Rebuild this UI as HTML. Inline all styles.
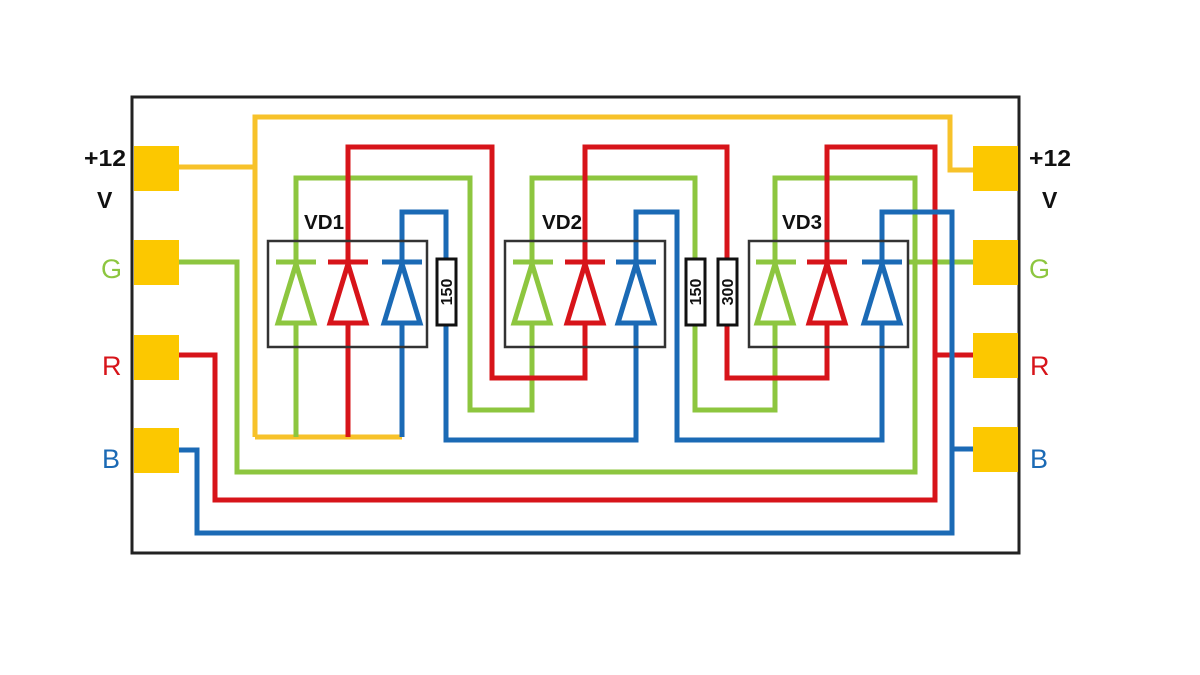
<!DOCTYPE html>
<html><head><meta charset="utf-8"><style>
html,body{margin:0;padding:0;background:#fff;width:1200px;height:675px;overflow:hidden}
svg{display:block}
text{font-family:"Liberation Sans",sans-serif;font-weight:bold}
</style></head><body>
<svg width="1200" height="675" viewBox="0 0 1200 675">
<g fill="none" stroke-width="5" stroke-linejoin="miter">
<polyline stroke="#f7c22a" points="178,167 255,167"/>
<polyline stroke="#f7c22a" points="255,437 255,117 950,117 950,170 973,170"/>
<polyline stroke="#f7c22a" points="255,437 402,437"/>
<polyline stroke="#8dc63f" points="296,437 296,178 470,178 470,410 532,410 532,178 695,178 695,410 775,410 775,178 915,178 915,472 237,472 237,262 178,262"/>
<polyline stroke="#8dc63f" points="908,262 973,262"/>
<polyline stroke="#d7141a" points="348,437 348,147 492,147 492,378 585,378 585,147 727,147 727,378 827,378 827,147 935,147 935,500 215,500 215,355 178,355"/>
<polyline stroke="#d7141a" points="935,355 973,355"/>
<polyline stroke="#1b6ab5" points="402,437 402,212 446,212 446,440 636,440 636,212 677,212 677,440 882,440 882,212 952,212 952,533 197,533 197,450 178,450"/>
<polyline stroke="#1b6ab5" points="952,449 973,449"/>
</g>
<rect x="132" y="97" width="887" height="456" fill="none" stroke="#222" stroke-width="3"/>
<g fill="#fcc800">
<rect x="134" y="146" width="45" height="45"/><rect x="134" y="240" width="45" height="45"/>
<rect x="134" y="335" width="45" height="45"/><rect x="134" y="428" width="45" height="45"/>
<rect x="973" y="146" width="45" height="45"/><rect x="973" y="240" width="45" height="45"/>
<rect x="973" y="333" width="45" height="45"/><rect x="973" y="427" width="45" height="45"/>
</g>
<g fill="none" stroke="#333" stroke-width="2.5">
<rect x="268" y="241" width="159" height="106"/>
<rect x="505" y="241" width="160" height="106"/>
<rect x="749" y="241" width="159" height="106"/>
</g>
<g fill="#fff" stroke-width="5" stroke-linejoin="miter">
<g stroke="#8dc63f"><path d="M276,262H316 M296,264L278,323H314Z"/><path d="M513,262H553 M532,264L514,323H550Z"/><path d="M756,262H796 M775,264L757,323H793Z"/></g>
<g stroke="#d7141a"><path d="M328,262H368 M348,264L330,323H366Z"/><path d="M565,262H605 M585,264L567,323H603Z"/><path d="M807,262H847 M827,264L809,323H845Z"/></g>
<g stroke="#1b6ab5"><path d="M382,262H422 M402,264L384,323H420Z"/><path d="M616,262H656 M636,264L618,323H654Z"/><path d="M862,262H902 M882,264L864,323H900Z"/></g>
</g>
<g fill="#fff" stroke="#111" stroke-width="3">
<rect x="437" y="259" width="19" height="66"/>
<rect x="686" y="259" width="19" height="66"/>
<rect x="718" y="259" width="19" height="66"/>
</g>
<g font-size="16" fill="#111">
<text transform="translate(452,292) rotate(-90)" text-anchor="middle">150</text>
<text transform="translate(701,292) rotate(-90)" text-anchor="middle">150</text>
<text transform="translate(733,292) rotate(-90)" text-anchor="middle">300</text>
</g>
<g font-size="20" fill="#111">
<text x="304" y="229" textLength="40" lengthAdjust="spacingAndGlyphs">VD1</text>
<text x="542" y="229" textLength="40" lengthAdjust="spacingAndGlyphs">VD2</text>
<text x="782" y="229" textLength="40" lengthAdjust="spacingAndGlyphs">VD3</text>
<text x="84" y="166" font-size="23" textLength="42" lengthAdjust="spacingAndGlyphs">+12</text><text x="97" y="208" font-size="23">V</text>
<text x="1029" y="166" font-size="23" textLength="42" lengthAdjust="spacingAndGlyphs">+12</text><text x="1042" y="208" font-size="23">V</text>
</g>
<g font-size="27">
<text x="101" y="278" fill="#8dc63f" style="font-weight:normal">G</text>
<text x="102" y="375" fill="#d7141a" style="font-weight:normal">R</text>
<text x="102" y="468" fill="#1b6ab5" style="font-weight:normal">B</text>
<text x="1029" y="278" fill="#8dc63f" style="font-weight:normal">G</text>
<text x="1030" y="375" fill="#d7141a" style="font-weight:normal">R</text>
<text x="1030" y="468" fill="#1b6ab5" style="font-weight:normal">B</text>
</g>
</svg>
</body></html>
